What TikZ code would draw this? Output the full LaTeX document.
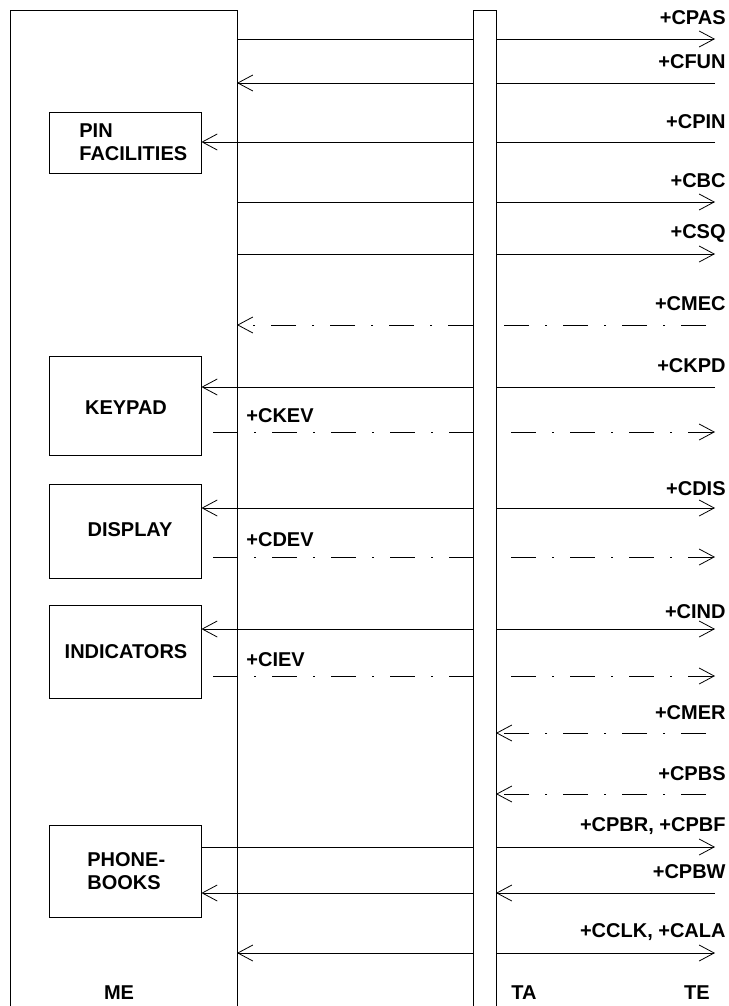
\documentclass[tikz,border=0pt]{standalone}
\usepackage{fontspec}
\setmainfont{Liberation Sans}
\usetikzlibrary{arrows.meta}
\begin{document}
\begin{tikzpicture}[x=1pt,y=-1pt,line width=0.8pt,
  tip/.style={-{Straight Barb[length=15pt,width=16pt,line width=0.8pt]}},
  dd/.style={dash pattern=on 25pt off 16pt on 2pt off 16pt},
  ddg/.style={dash pattern=on 25pt off 16pt on 2pt off 16pt, dash phase=44pt},
  lbl/.style={font=\fontsize{20}{23}\selectfont\bfseries, inner sep=0pt},
  rl/.style={lbl, anchor=east},
  ll/.style={lbl, anchor=west},
  unitbox/.style={draw, line width=0.8pt, minimum width=152pt, inner sep=0pt}]
\useasboundingbox (0,0) rectangle (728,1006);

% columns
\coordinate (meL) at (10,10);
\coordinate (meR) at (237,10);
\coordinate (taL) at (473,10);
\coordinate (taR) at (496,10);
\coordinate (teX) at (715,10);
\coordinate (dS) at (213,10);
\coordinate (dE) at (706,10);
\coordinate (bot) at (0,1008);

% ME frame and TA bar
\draw (meL |- bot) -- (meL) -- (meR) -- (meR |- bot);
\draw (taL |- bot) -- (taL) -- (taR) -- (taR |- bot);

% unit boxes
\node[unitbox, minimum height=61pt] (pin) at (125,142.5) {};
\node[unitbox, minimum height=99pt] (keypad) at (125,405.5) {};
\node[unitbox, minimum height=94pt] (display) at (125,531) {};
\node[unitbox, minimum height=93pt] (indic) at (125,651.5) {};
\node[unitbox, minimum height=92pt] (phone) at (125,871) {};

\node[lbl, anchor=west, align=left] (tpin) at (79,142.5) {PIN\\FACILITIES};
\node[lbl] (tkey) at (126,408) {KEYPAD};
\node[lbl] (tdisp) at (130,530) {DISPLAY};
\node[lbl] (tind) at (126,652) {INDICATORS};
\node[lbl, anchor=west, align=left] (tphone) at (87,871.5) {PHONE-\\BOOKS};

% rows
\coordinate (r1) at (0,39);
\coordinate (r2) at (0,83);
\coordinate (r3) at (0,142);
\coordinate (r4) at (0,202);
\coordinate (r5) at (0,254);
\coordinate (r6) at (0,325);
\coordinate (r7) at (0,387);
\coordinate (r8) at (0,432);
\coordinate (r9) at (0,508);
\coordinate (r10) at (0,557);
\coordinate (r11) at (0,629);
\coordinate (r12) at (0,676);
\coordinate (r13) at (0,733);
\coordinate (r14) at (0,794);
\coordinate (r15) at (0,847);
\coordinate (r16) at (0,893);
\coordinate (r17) at (0,953);

% +CPAS
\draw (meR |- r1) -- (taL |- r1);
\draw[tip] (taR |- r1) -- (teX |- r1);
% +CFUN
\draw (teX |- r2) -- (taR |- r2);
\draw[tip] (taL |- r2) -- (meR |- r2);
% +CPIN
\draw (teX |- r3) -- (taR |- r3);
\draw[tip] (taL |- r3) -- (pin.east |- r3);
% +CBC
\draw (meR |- r4) -- (taL |- r4);
\draw[tip] (taR |- r4) -- (teX |- r4);
% +CSQ
\draw (meR |- r5) -- (taL |- r5);
\draw[tip] (taR |- r5) -- (teX |- r5);
% +CMEC
\draw[dd] (dE |- r6) -- (taR |- r6);
\draw[dd, tip] (taL |- r6) -- (meR |- r6);
% +CKPD
\draw (teX |- r7) -- (taR |- r7);
\draw[tip] (taL |- r7) -- (keypad.east |- r7);
% +CKEV
\draw[dd] (dS |- r8) -- (taL |- r8);
\draw[ddg, tip] (taR |- r8) -- (teX |- r8);
% +CDIS
\draw[tip] (taL |- r9) -- (display.east |- r9);
\draw[tip] (taR |- r9) -- (teX |- r9);
% +CDEV
\draw[dd] (dS |- r10) -- (taL |- r10);
\draw[ddg, tip] (taR |- r10) -- (teX |- r10);
% +CIND
\draw[tip] (taL |- r11) -- (indic.east |- r11);
\draw[tip] (taR |- r11) -- (teX |- r11);
% +CIEV
\draw[dd] (dS |- r12) -- (taL |- r12);
\draw[ddg, tip] (taR |- r12) -- (teX |- r12);
% +CMER
\draw[dd, tip] (dE |- r13) -- (taR |- r13);
% +CPBS
\draw[dd, tip] (dE |- r14) -- (taR |- r14);
% +CPBR, +CPBF
\draw (phone.east |- r15) -- (taL |- r15);
\draw[tip] (taR |- r15) -- (teX |- r15);
% +CPBW
\draw[tip] (teX |- r16) -- (taR |- r16);
\draw[tip] (taL |- r16) -- (phone.east |- r16);
% +CCLK, +CALA
\draw[tip] (taL |- r17) -- (meR |- r17);
\draw[tip] (taR |- r17) -- (teX |- r17);

% right labels
\node[rl] (lcpas) at (726,18) {+CPAS};
\node[rl] (lcfun) at (726,62) {+CFUN};
\node[rl] (lcpin) at (726,122) {+CPIN};
\node[rl] (lcbc) at (726,181) {+CBC};
\node[rl] (lcsq) at (726,233) {+CSQ};
\node[rl] (lcmec) at (726,304) {+CMEC};
\node[rl] (lckpd) at (726,366) {+CKPD};
\node[rl] (lcdis) at (726,489) {+CDIS};
\node[rl] (lcind) at (726,612) {+CIND};
\node[rl] (lcmer) at (726,713) {+CMER};
\node[rl] (lcpbs) at (726,774) {+CPBS};
\node[rl] (lcpbr) at (726,826) {+CPBR, +CPBF};
\node[rl] (lcpbw) at (726,872) {+CPBW};
\node[rl] (lcclk) at (726,932) {+CCLK, +CALA};

% left labels
\node[ll] (lckev) at (246,416) {+CKEV};
\node[ll] (lcdev) at (246,540) {+CDEV};
\node[ll] (lciev) at (246,660) {+CIEV};

% column labels
\node[lbl] (lme) at (119,993) {ME};
\node[lbl] (lta) at (524,993) {TA};
\node[lbl] (lte) at (697,993) {TE};
\end{tikzpicture}
\end{document}
